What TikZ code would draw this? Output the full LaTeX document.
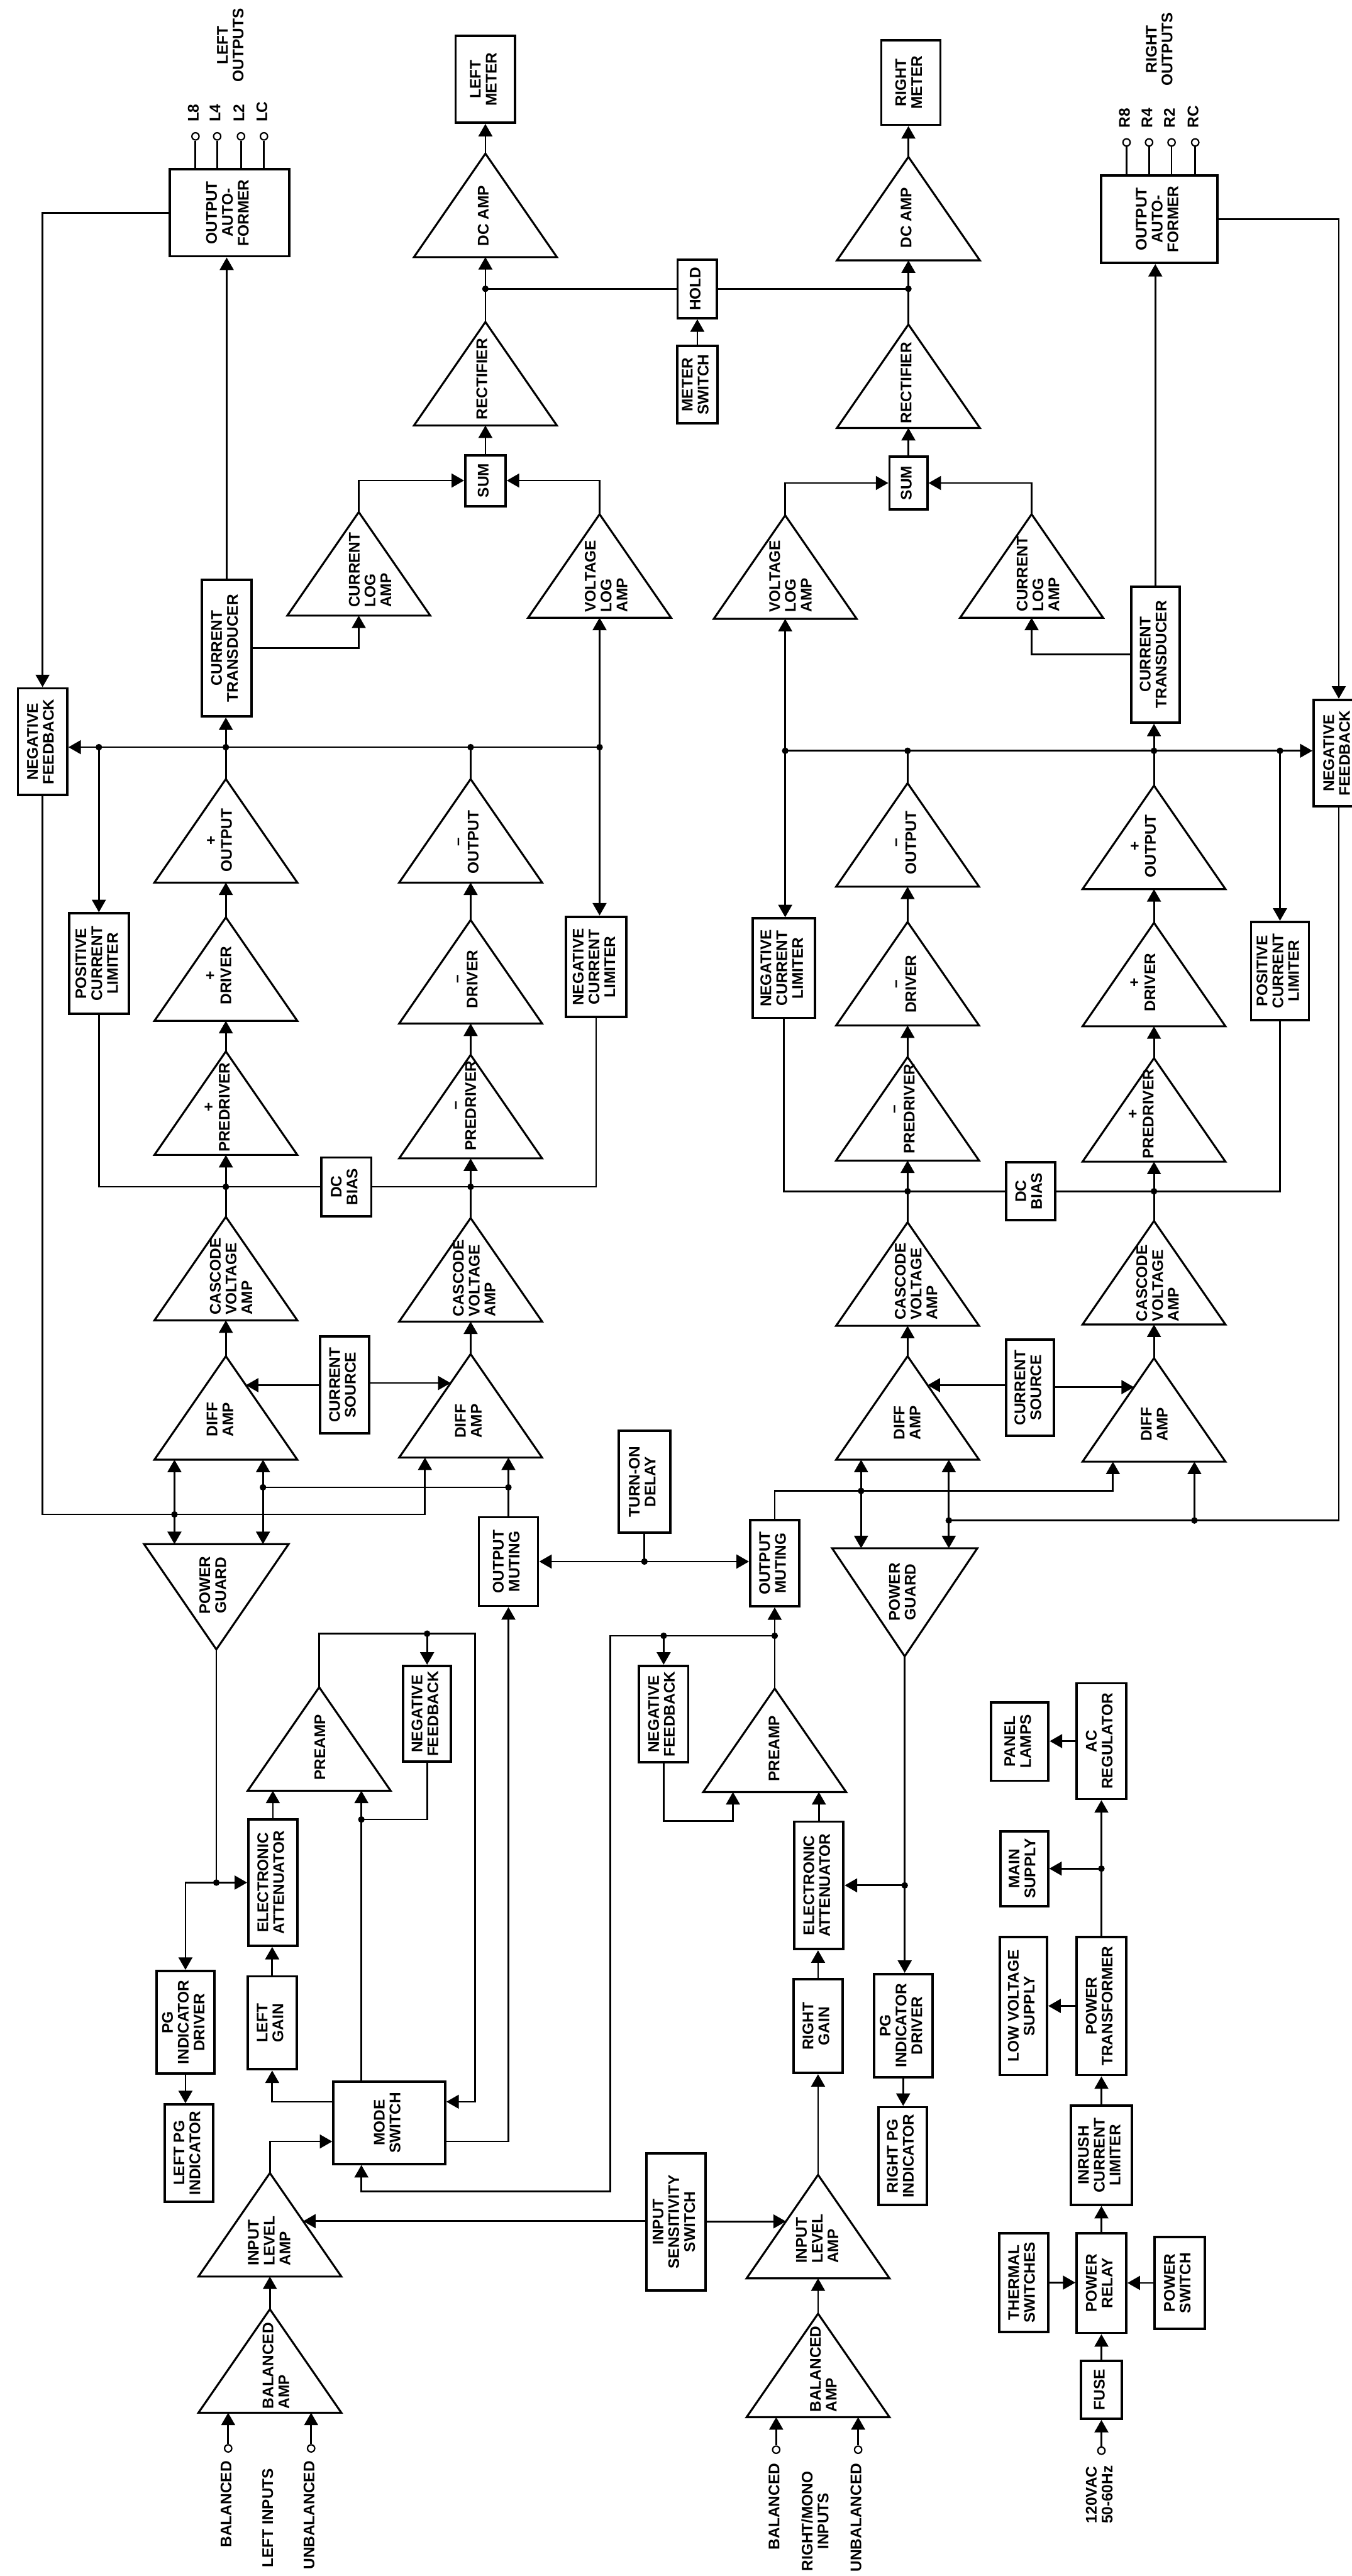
\documentclass[tikz,border=0pt]{standalone}
\usepackage{fontspec}
\setmainfont{Liberation Sans}
\usepackage{graphicx}
\usepackage{tikz}
\usetikzlibrary{positioning,arrows.meta,calc}

\newcommand{\vtext}[1]{\rotatebox{90}{\begin{tabular}{@{}c@{}}#1\end{tabular}}}
\newcommand{\vtextl}[1]{\rotatebox{90}{\begin{tabular}{@{}l@{}}#1\end{tabular}}}

\begin{document}
\begin{tikzpicture}[x=0.5mm, y=-0.5mm, line width=1.5pt,
    font=\bfseries\fontsize{13.3}{13.7}\selectfont,
    >={Triangle[length=3.8mm,width=4.2mm]},
    box/.style={draw, line width=2.1pt, inner sep=0pt},
    amp/.style={line width=1.7pt, line join=miter},
    lbl/.style={inner sep=0pt},
    term/.style={circle, draw, fill=white, inner sep=0pt, minimum size=2.2mm, line width=1.2pt},
    arr/.style={->},
    dbl/.style={<->}]

    \useasboundingbox (0,0) rectangle (823,1568);

    % =========================================================================
    % BLOCKS: left channel
    % =========================================================================
    \node[box, minimum width=36.25mm, minimum height=26.5mm] (afL) at (139.75,129.5) {\vtext{OUTPUT\\AUTO-\\FORMER}};
    \node[box, minimum width=18.15mm, minimum height=26.35mm] (lmL) at (295.5,48.3) {\vtext{LEFT\\METER}};
    \node[box, minimum width=12mm, minimum height=17.8mm] (holdB) at (424.5,175.8) {\vtext{HOLD}};
    \node[box, minimum width=12.25mm, minimum height=23.5mm] (msw) at (424.5,234.2) {\vtext{METER\\SWITCH}};
    \node[box, minimum width=12.25mm, minimum height=15.5mm] (sumL) at (295.5,292.5) {\vtext{SUM}};
    \node[box, minimum width=15mm, minimum height=41.5mm] (ctL) at (138,394.5) {\vtext{CURRENT\\TRANSDUCER}};
    \node[box, minimum width=15mm, minimum height=32.5mm] (nfL) at (25.9,451.5) {\vtext{NEGATIVE\\FEEDBACK}};
    \node[box, minimum width=18.2mm, minimum height=30.5mm] (pclL) at (60.2,586.5) {\vtext{POSITIVE\\CURRENT\\LIMITER}};
    \node[box, minimum width=18.35mm, minimum height=30.5mm] (nclL) at (362.9,588.5) {\vtext{NEGATIVE\\CURRENT\\LIMITER}};
    \node[box, minimum width=15.25mm, minimum height=17.85mm] (dcbL) at (210.8,722.4) {\vtext{DC\\BIAS}};
    \node[box, minimum width=15mm, minimum height=29.5mm] (csL) at (209.8,843) {\vtext{CURRENT\\SOURCE}};
    \node[box, minimum width=18mm, minimum height=27mm] (omL) at (309.5,950.5) {\vtext{OUTPUT\\MUTING}};
    \node[box, minimum width=15.7mm, minimum height=31.15mm] (tod) at (392.3,901.9) {\vtext{TURN-ON\\DELAY}};
    \node[box, minimum width=14.5mm, minimum height=29.15mm] (nfpL) at (260,1043.2) {\vtext{NEGATIVE\\FEEDBACK}};
    \node[box, minimum width=14.9mm, minimum height=38.4mm] (eaL) at (166.1,1145.9) {\vtext{ELECTRONIC\\ATTENUATOR}};
    \node[box, minimum width=17.55mm, minimum height=31.25mm] (pgdL) at (112.9,1231) {\vtext{PG\\INDICATOR\\DRIVER}};
    \node[box, minimum width=14.7mm, minimum height=29.55mm] (pgiL) at (115.1,1310.5) {\vtext{LEFT PG\\INDICATOR}};
    \node[box, minimum width=15mm, minimum height=28.3mm] (lgain) at (165.7,1231.3) {\vtext{LEFT\\GAIN}};
    \node[box, minimum width=34mm, minimum height=25mm] (mode) at (237,1292.1) {\vtext{MODE\\SWITCH}};
    \node[box, minimum width=18mm, minimum height=41.7mm] (iss) at (411.5,1352.4) {\vtext{INPUT\\SENSITIVITY\\SWITCH}};

    % =========================================================================
    % BLOCKS: right channel
    % =========================================================================
    \node[box, minimum width=18mm, minimum height=25.8mm] (rmR) at (554.5,50.2) {\vtext{RIGHT\\METER}};
    \node[box, minimum width=11.5mm, minimum height=16mm] (sumR) at (553,294) {\vtext{SUM}};
    \node[box, minimum width=35.5mm, minimum height=26.6mm] (afR) at (705.7,133.4) {\vtext{OUTPUT\\AUTO-\\FORMER}};
    \node[box, minimum width=14.7mm, minimum height=41.4mm] (ctR) at (703.3,398.4) {\vtext{CURRENT\\TRANSDUCER}};
    \node[box, minimum width=15.3mm, minimum height=32.4mm] (nfR) at (815,458.4) {\vtext{NEGATIVE\\FEEDBACK}};
    \node[box, minimum width=17.6mm, minimum height=29.8mm] (pclR) at (779.2,591) {\vtext{POSITIVE\\CURRENT\\LIMITER}};
    \node[box, minimum width=18.85mm, minimum height=30.25mm] (nclR) at (477.2,589.3) {\vtext{NEGATIVE\\CURRENT\\LIMITER}};
    \node[box, minimum width=15mm, minimum height=17.6mm] (dcbR) at (627.5,725.1) {\vtext{DC\\BIAS}};
    \node[box, minimum width=14.5mm, minimum height=29.3mm] (csR) at (627,844.7) {\vtext{CURRENT\\SOURCE}};
    \node[box, minimum width=14.9mm, minimum height=26.15mm] (omR) at (471.6,951.5) {\vtext{OUTPUT\\MUTING}};
    \node[box, minimum width=15mm, minimum height=29.3mm] (nfpR) at (404,1043.3) {\vtext{NEGATIVE\\FEEDBACK}};
    \node[box, minimum width=15mm, minimum height=38.8mm] (eaR) at (498.5,1147.6) {\vtext{ELECTRONIC\\ATTENUATOR}};
    \node[box, minimum width=15mm, minimum height=28.5mm] (rgain) at (498,1233.3) {\vtext{RIGHT\\GAIN}};
    \node[box, minimum width=17.85mm, minimum height=31.4mm] (pgdR) at (549.8,1233) {\vtext{PG\\INDICATOR\\DRIVER}};
    \node[box, minimum width=14.75mm, minimum height=29.7mm] (pgiR) at (549.4,1312.3) {\vtext{RIGHT PG\\INDICATOR}};

    % =========================================================================
    % BLOCKS: power supply
    % =========================================================================
    \node[box, minimum width=17.5mm, minimum height=23.9mm] (lamps) at (620.8,1060) {\vtext{PANEL\\LAMPS}};
    \node[box, minimum width=15mm, minimum height=35.2mm] (acreg) at (670.5,1059.8) {\vtext{AC\\REGULATOR}};
    \node[box, minimum width=14.5mm, minimum height=22.8mm] (mains) at (623.5,1137.4) {\vtext{MAIN\\SUPPLY}};
    \node[box, minimum width=14.4mm, minimum height=42.1mm] (lvs) at (623,1221) {\vtext{LOW VOLTAGE\\SUPPLY}};
    \node[box, minimum width=15mm, minimum height=42.1mm] (ptr) at (670.5,1221) {\vtext{POWER\\TRANSFORMER}};
    \node[box, minimum width=18.45mm, minimum height=30.1mm] (inrush) at (670.5,1311.9) {\vtext{INRUSH\\CURRENT\\LIMITER}};
    \node[box, minimum width=14.8mm, minimum height=30.1mm] (thsw) at (623.2,1389.4) {\vtext{THERMAL\\SWITCHES}};
    \node[box, minimum width=15.1mm, minimum height=30.35mm] (relay) at (670.5,1389.7) {\vtext{POWER\\RELAY}};
    \node[box, minimum width=15.3mm, minimum height=28.05mm] (pwsw) at (718,1389.6) {\vtext{POWER\\SWITCH}};
    \node[box, minimum width=12.5mm, minimum height=17.65mm] (fuse) at (670.5,1454.6) {\vtext{FUSE}};

    % =========================================================================
    % AMPLIFIER STAGES (triangles: name / apex x / apex y)
    % =========================================================================
    \foreach \n/\x/\y in {dcL/295.5/93.5, rectL/295.5/196, clogL/218.4/311.7, vlogL/365/313,
        outpL/137.5/474.2, drvpL/137.5/558.4, predpL/137.5/640, casL/137.5/740.7, diffL/137.5/825.5,
        outmL/286.5/474.2, drvmL/286.5/560, predmL/286.5/642.1, casmL/286.5/741.4, diffmL/286.5/824.2,
        preL/194.3/1027, ilaL/164.3/1322.7, balL/164.3/1405.6,
        dcR/553/95.5, rectR/553/197.5, vlogR/478/313.7, clogR/628/313,
        outmR/552.5/476.7, drvmR/552.5/561.2, predmR/552.5/643.4, casmR/552.5/744, diffmR/552.5/825.5,
        outpR/702.5/478.2, drvpR/702.5/561.7, predpR/702.5/644.1, caspR/702.5/743.2, diffpR/702.5/826.7,
        preR/471.6/1027.8, ilaR/498/1323.8, balR/498/1408.3} {
        \coordinate (\n-a) at (\x,\y);
        \coordinate (\n-b) at (\x,\y+63);
        \coordinate (\n-l) at (\x-43.5,\y+63);
        \coordinate (\n-r) at (\x+43.5,\y+63);
        \draw[amp] (\n-a) -- (\n-r) -- (\n-l) -- cycle;
    }

    % Power guards (pointing down)
    \coordinate (pgL-a) at (131.7,1004);
    \coordinate (pgL-t) at (131.7,939.9);
    \draw[amp] ($(pgL-t)+(-44,0)$) -- ($(pgL-t)+(44,0)$) -- (pgL-a) -- cycle;
    \coordinate (pgR-a) at (550.75,1008.2);
    \coordinate (pgR-t) at (550.75,942.4);
    \draw[amp] ($(pgR-t)+(-44.2,0)$) -- ($(pgR-t)+(44.2,0)$) -- (pgR-a) -- cycle;

    % Stage labels
    \foreach \n/\x/\y/\txt in {dcL/295.5/131.3/{DC AMP}, rectL/294.6/230.7/RECTIFIER,
        dcR/552.9/132.6/{DC AMP}, rectR/552.9/233/RECTIFIER,
        outpL/134.4/511.4/{+\\OUTPUT}, drvpL/134/593.8/{+\\DRIVER}, predpL/133/674/{+\\PREDRIVER},
        outmL/284.5/512.6/{--\\OUTPUT}, drvmL/284/596/{--\\DRIVER}, predmL/283/673/{--\\PREDRIVER},
        outmR/551/513/{--\\OUTPUT}, drvmR/551/599/{--\\DRIVER}, predmR/550/675/{--\\PREDRIVER},
        outpR/696.8/515/{+\\OUTPUT}, drvpR/696.5/598/{+\\DRIVER}, predpR/695.5/678/{+\\PREDRIVER},
        preL/196/1063.6/PREAMP, preR/472.5/1064.3/PREAMP,
        pgL/130.8/965/{POWER\\GUARD}, pgR/550.6/969/{POWER\\GUARD}}
        \node[lbl] (\n) at (\x,\y) {\vtext{\txt}};
    \foreach \n/\x/\y/\txt in {clogL/226.6/346.9/{CURRENT\\LOG\\AMP}, vlogL/370.3/350.7/{VOLTAGE\\LOG\\AMP},
        vlogR/482.5/350.7/{VOLTAGE\\LOG\\AMP}, clogR/633.2/349.4/{CURRENT\\LOG\\AMP},
        casL/142/777/{CASCODE\\VOLTAGE\\AMP}, casmL/290/778/{CASCODE\\VOLTAGE\\AMP},
        casmR/559/780/{CASCODE\\VOLTAGE\\AMP}, caspR/706/781/{CASCODE\\VOLTAGE\\AMP},
        diffL/135.2/864/{DIFF\\AMP}, diffmL/286.4/865/{DIFF\\AMP},
        diffmR/553.5/866/{DIFF\\AMP}, diffpR/704/867/{DIFF\\AMP},
        ilaL/165.2/1364/{INPUT\\LEVEL\\AMP}, ilaR/498.8/1362.6/{INPUT\\LEVEL\\AMP},
        balL/169.3/1440/{BALANCED\\AMP}, balR/502.5/1442/{BALANCED\\AMP}}
        \node[lbl] (\n) at (\x,\y) {\vtextl{\txt}};

    % Side and base inputs
    \coordinate (diffL-ri) at ($(diffL-a)!0.28!(diffL-r)$);
    \coordinate (diffmL-li) at ($(diffmL-a)!0.28!(diffmL-l)$);
    \coordinate (diffmR-ri) at ($(diffmR-a)!0.28!(diffmR-r)$);
    \coordinate (diffpR-li) at ($(diffpR-a)!0.28!(diffpR-l)$);
    \coordinate (ilaL-ri) at ($(ilaL-a)!0.465!(ilaL-r)$);
    \coordinate (ilaR-li) at ($(ilaR-a)!0.45!(ilaR-l)$);
    \coordinate (diffL-i1) at (106.2,888.5);
    \coordinate (diffL-i2) at (160.1,888.5);
    \coordinate (diffmL-i1) at (258.7,887.2);
    \coordinate (diffmL-i2) at (309.5,887.2);
    \coordinate (diffmR-i1) at (524.2,888.5);
    \coordinate (diffmR-i2) at (577.6,888.5);
    \coordinate (diffpR-i1) at (677.5,889.7);
    \coordinate (diffpR-i2) at (727.1,889.7);

    % =========================================================================
    % TERMINALS
    % =========================================================================
    \node[lbl] (lout) at (141.5,27.5) {\vtext{LEFT\\OUTPUTS}};
    \node[lbl] (rout) at (707,30) {\vtext{RIGHT\\OUTPUTS}};
    \foreach \n/\x in {L8/119, L4/132.2, L2/146.7, LC/160.7} {
        \node[term] (t\n) at (\x,83) {};
        \node[lbl, above=2.8mm of t\n] {\vtext{\n}};
        \draw (t\n) -- (t\n |- afL.north);
    }
    \foreach \n/\x in {R8/685.8, R4/699.5, R2/713.2, RC/727.6} {
        \node[term] (t\n) at (\x,86.7) {};
        \node[lbl, above=2.8mm of t\n] {\vtext{\n}};
        \draw (t\n) -- (t\n |- afR.north);
    }
    \node[term] (tBL) at (138.9,1490.3) {};
    \node[term] (tUL) at (189.4,1490.3) {};
    \node[term] (tBR) at (472.5,1491.1) {};
    \node[term] (tUR) at (522.4,1491.1) {};
    \node[term] (tAC) at (670.5,1491.7) {};
    \node[lbl, below=2.3mm of tBL] {\vtext{BALANCED}};
    \node[lbl, below=2.3mm of tUL] {\vtext{UNBALANCED}};
    \node[lbl, anchor=north] (inL) at (164.3,1502) {\vtext{LEFT INPUTS}};
    \node[lbl, below=2.6mm of tBR] {\vtext{BALANCED}};
    \node[lbl, below=2.6mm of tUR] {\vtext{UNBALANCED}};
    \node[lbl, anchor=north] (inR) at (497.5,1503.7) {\vtext{RIGHT/MONO\\INPUTS}};
    \node[lbl, below=3mm of tAC] {\vtext{120VAC\\50-60Hz}};

    % =========================================================================
    % JUNCTIONS
    % =========================================================================
    \coordinate (jmL) at (rectL-a |- holdB.west);
    \coordinate (jmR) at (rectR-a |- holdB.east);
    \coordinate (jL1) at (60.2,454.8);
    \coordinate (jL2) at (outpL-a |- jL1);
    \coordinate (jL3) at (outmL-a |- jL1);
    \coordinate (jL4) at (vlogL-a |- jL1);
    \coordinate (jL5) at (casL-a |- dcbL.west);
    \coordinate (jL6) at (casmL-a |- dcbL.east);
    \coordinate (jL7) at (106.2,921.8);
    \coordinate (jL8) at (309.5,905.3);
    \coordinate (jL9) at (160.1,905.3);
    \coordinate (jT) at (tod.south |- omL.east);
    \coordinate (jP1) at (260,994.4);
    \coordinate (kP1) at (289.1,994.4);
    \coordinate (jP2) at (220,1107.5);
    \coordinate (jP3) at (471.6,995.7);
    \coordinate (jP4) at (404,995.7);
    \coordinate (kP3) at (371.4,1334);
    \coordinate (kP4) at (446.2,1108.3);
    \coordinate (jG1) at (pgL-a |- eaL.west);
    \coordinate (jG2) at (pgR-a |- eaR.east);
    \coordinate (jR1) at (478,457);
    \coordinate (jR2) at (outmR-a |- jR1);
    \coordinate (jR3) at (outpR-a |- jR1);
    \coordinate (jR4) at (779.2,457);
    \coordinate (jR5) at (casmR-a |- dcbR.west);
    \coordinate (jR6) at (caspR-a |- dcbR.east);
    \coordinate (jR7) at (577.6,925.5);
    \coordinate (jR8) at (727.1,925.5);
    \coordinate (jR9) at (524.2,907.5);
    \coordinate (jS) at (ptr.north |- mains.east);

    % =========================================================================
    % CONNECTIONS: meters
    % =========================================================================
    \draw[arr] (sumL.north) -- (rectL-b);
    \draw (rectL-a) -- (jmL);
    \draw[arr] (jmL) -- (dcL-b);
    \draw[arr] (dcL-a) -- (lmL.south);
    \draw (jmL) -- (holdB.west);
    \draw (holdB.east) -- (jmR);
    \draw[arr] (msw.north) -- (holdB.south);
    \draw[arr] (sumR.north) -- (rectR-b);
    \draw (rectR-a) -- (jmR);
    \draw[arr] (jmR) -- (dcR-b);
    \draw[arr] (dcR-a) -- (dcR-a |- rmR.south);
    \draw[arr] (clogL-a) |- (sumL.west);
    \draw[arr] (vlogL-a) |- (sumL.east);
    \draw[arr] (vlogR-a) |- (sumR.west);
    \draw[arr] (clogR-a) |- (sumR.east);

    % Outputs and feedback take-off
    \draw[arr] (afL.west) -| (nfL.north);
    \draw[arr] (afR.east) -| (nfR.north);
    \draw[arr] (ctL.north) -- (ctL.north |- afL.south);
    \draw[arr] (ctR.north) -- (ctR.north |- afR.south);
    \draw[arr] (ctL.east) -| (clogL-b);
    \draw[arr] (ctR.west) -| (clogR-b);

    % =========================================================================
    % CONNECTIONS: output stages
    % =========================================================================
    \draw[arr] (jL4) -- (jL4 -| nfL.east);
    \draw (outpL-a) -- (jL2);
    \draw (outmL-a) -- (jL3);
    \draw[arr] (jL2) -- (jL2 |- ctL.south);
    \draw[arr] (jL1) -- (pclL.north);
    \draw[arr] (jL4) -- (vlogL-b);
    \draw[arr] (jL4) -- (jL4 |- nclL.north);
    \draw (pclL.south) |- (jL5);
    \draw (nclL.south) |- (jL6);
    \draw (jL5) -- (dcbL.west);
    \draw (dcbL.east) -- (jL6);
    \draw (casL-a) -- (jL5);
    \draw (casmL-a) -- (jL6);
    \draw[arr] (jL5) -- (predpL-b);
    \draw[arr] (jL6) -- (predmL-b);

    \draw[arr] (jR1) -- (jR1 -| nfR.west);
    \draw (outmR-a) -- (jR2);
    \draw (outpR-a) -- (jR3);
    \draw[arr] (jR3) -- (jR3 |- ctR.south);
    \draw[arr] (jR4) -- (pclR.north);
    \draw[arr] (jR1) -- (vlogR-b);
    \draw[arr] (jR1) -- (jR1 |- nclR.north);
    \draw (nclR.south) |- (jR5);
    \draw (pclR.south) |- (jR6);
    \draw (jR5) -- (dcbR.west);
    \draw (dcbR.east) -- (jR6);
    \draw (casmR-a) -- (jR5);
    \draw (caspR-a) -- (jR6);
    \draw[arr] (jR5) -- (predmR-b);
    \draw[arr] (jR6) -- (predpR-b);

    \foreach \lo/\hi in {predpL/drvpL, drvpL/outpL, predmL/drvmL, drvmL/outmL, diffL/casL, diffmL/casmL,
        predmR/drvmR, drvmR/outmR, predpR/drvpR, drvpR/outpR, diffmR/casmR, diffpR/caspR,
        balL/ilaL, balR/ilaR}
        \draw[arr] (\lo-a) -- (\hi-b);

    % =========================================================================
    % CONNECTIONS: input stages
    % =========================================================================
    \draw[dbl] (diffL-i1) -- (diffL-i1 |- pgL-t);
    \draw[dbl] (diffL-i2) -- (diffL-i2 |- pgL-t);
    \draw[arr] (nfL.south) |- (jL7) -| (diffmL-i1);
    \draw[arr] (omL.north) -- (diffmL-i2);
    \draw (jL8) -- (jL9);
    \draw[arr] (csL.west |- diffL-ri) -- (diffL-ri);
    \draw[arr] (csL.east |- diffmL-li) -- (diffmL-li);

    \draw[dbl] (diffmR-i1) -- (diffmR-i1 |- pgR-t);
    \draw[dbl] (diffmR-i2) -- (diffmR-i2 |- pgR-t);
    \draw (nfR.south) |- (jR7);
    \draw[arr] (jR8) -- (diffpR-i2);
    \draw[arr] (omR.north) |- (jR9) -| (diffpR-i1);
    \draw[arr] (csR.west |- diffmR-ri) -- (diffmR-ri);
    \draw[arr] (csR.east |- diffpR-li) -- (diffpR-li);

    % Turn-on delay
    \draw (tod.south) -- (jT);
    \draw[arr] (jT) -- (omL.east);
    \draw[arr] (jT) -- (jT -| omR.west);

    % Preamps and mode switch
    \draw[arr] (preL-a) |- (kP1) |- ([yshift=6.4mm]mode.east);
    \draw[arr] (jP1) -- (nfpL.north);
    \draw (nfpL.south) |- (jP2);
    \draw[arr] (jP2 |- mode.north) -- (jP2 |- preL-b);
    \draw[arr] (eaL.north) -- (eaL.north |- preL-b);
    \draw[arr] (lgain.north) -- (lgain.north |- eaL.south);
    \draw[arr] ([yshift=6.4mm]mode.west) -| (lgain.south);
    \draw[arr] (ilaL-a) |- ([yshift=-5.7mm]mode.west);
    \draw[arr] ([yshift=-5.7mm]mode.east) -| (omL.south);
    \draw (preR-a) -- (jP3);
    \draw[arr] (jP3) -- (omR.south);
    \draw[arr] (jP3) -| (kP3) -| (jP2 |- mode.south);
    \draw[arr] (jP4) -- (nfpR.north);
    \draw[arr] (nfpR.south) |- (kP4) -- (kP4 |- preR-b);
    \draw[arr] (eaR.north) -- (eaR.north |- preR-b);
    \draw[arr] (rgain.north) -- (rgain.north |- eaR.south);
    \draw[arr] (ilaR-a) -- (rgain.south);

    % Power guard
    \draw (pgL-a) -- (jG1);
    \draw[arr] (jG1) -- (eaL.west);
    \draw[arr] (jG1) -| (pgdL.north);
    \draw[arr] (pgdL.south) -- (pgdL.south |- pgiL.north);
    \draw[arr] (pgR-a) -- (pgR-a |- pgdR.north);
    \draw[arr] (jG2) -- (eaR.east);
    \draw[arr] (pgdR.south) -- (pgdR.south |- pgiR.north);

    % Input sensitivity and inputs
    \draw[arr] (iss.west |- ilaL-ri) -- (ilaL-ri);
    \draw[arr] (iss.east |- ilaR-li) -- (ilaR-li);
    \draw[arr] (tBL) -- (tBL |- balL-b);
    \draw[arr] (tUL) -- (tUL |- balL-b);
    \draw[arr] (tBR) -- (tBR |- balR-b);
    \draw[arr] (tUR) -- (tUR |- balR-b);

    % =========================================================================
    % CONNECTIONS: power supply
    % =========================================================================
    \draw[arr] (tAC) -- (fuse.south);
    \draw[arr] (fuse.north) -- (relay.south);
    \draw[arr] (thsw.east) -- (thsw.east -| relay.west);
    \draw[arr] (pwsw.west) -- (pwsw.west -| relay.east);
    \draw[arr] (relay.north) -- (inrush.south);
    \draw[arr] (inrush.north) -- (ptr.south);
    \draw[arr] (ptr.west) -- (lvs.east);
    \draw (ptr.north) -- (jS);
    \draw[arr] (jS) -- (acreg.south);
    \draw[arr] (jS) -- (mains.east);
    \draw[arr] (acreg.west) -- (acreg.west -| lamps.east);

    % Junction dots
    \foreach \j in {jmL,jmR,jL1,jL2,jL3,jL4,jL5,jL6,jL7,jL8,jL9,jT,jP1,jP2,jP3,jP4,jG1,jG2,
        jR1,jR2,jR3,jR4,jR5,jR6,jR7,jR8,jR9,jS}
        \fill (\j) circle[radius=1mm];

\end{tikzpicture}
\end{document}
